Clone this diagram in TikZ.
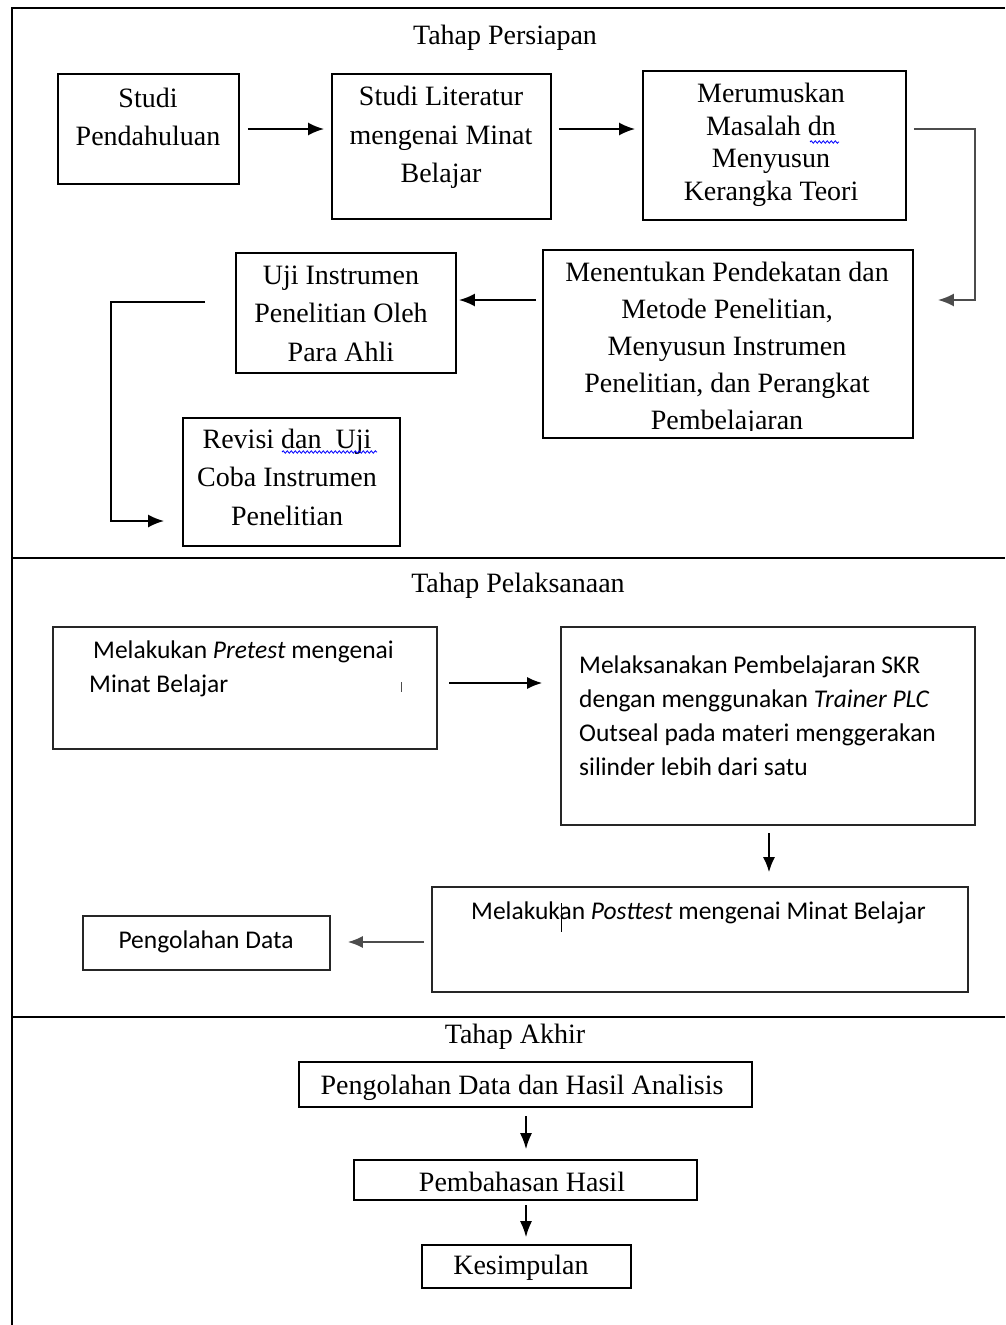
\documentclass[tikz,border=0pt]{standalone}
\usepackage{fontspec}
\setmainfont{Liberation Serif}
\newfontfamily\calfont{Carlito}
\usetikzlibrary{arrows.meta,decorations.pathmorphing}
\begin{document}
\begin{tikzpicture}[x=1pt,y=-1pt,
  box/.style={draw, line width=1.7pt, inner sep=0pt},
  sbox/.style={draw=black!85, line width=1.7pt, inner sep=0pt},
  serif/.style={font=\fontsize{28}{38.5}\selectfont, align=center, inner sep=0pt},
  serifm/.style={font=\fontsize{28}{32.5}\selectfont, align=center, inner sep=0pt},
  serife/.style={font=\fontsize{28}{37}\selectfont, align=center, inner sep=0pt},
  cal/.style={font=\calfont\fontsize{25.5}{34}\selectfont, align=left, inner sep=0pt, anchor=west},
  frame/.style={line width=2.2pt},
  arrA/.style={line width=2.2pt, -{Latex[length=16pt,width=13pt]}},
  arrB/.style={line width=1.6pt, -{Latex[length=15pt,width=12pt]}},
  arrC/.style={line width=1.6pt, -{Latex[length=16pt,width=12pt]}},
  wavy/.style={blue, line width=0.8pt, decorate, decoration={snake, amplitude=1.2pt, segment length=4pt}}
]
\useasboundingbox (0,0) rectangle (1005,1325);
% frame
\coordinate (ftl) at (12,8);
\coordinate (ftr) at (1005,8);
\coordinate (fbl) at (12,1325);
\coordinate (d1l) at (12,558);
\coordinate (d1r) at (1005,558);
\coordinate (d2l) at (12,1017);
\coordinate (d2r) at (1005,1017);
\draw[frame] (ftr) -- (ftl) -- (fbl);
\draw[frame] (d1l) -- (d1r);
\draw[frame] (d2l) -- (d2r);

% titles
\node[serif] (t1) at (505,38) {Tahap Persiapan};
\node[serif] (t2) at (518,586) {Tahap Pelaksanaan};
\node[serif] (t3) at (515,1037) {Tahap Akhir};

% Persiapan boxes
\node[box, minimum width=181pt, minimum height=110pt] (SP) at (148.5,129) {};
\node[box, minimum width=219pt, minimum height=145pt] (SL) at (441.5,146.5) {};
\node[box, minimum width=263pt, minimum height=149pt] (MR) at (774.5,145.5) {};
\node[box, minimum width=370pt, minimum height=188pt] (ME) at (728,344) {};
\node[box, minimum width=220pt, minimum height=120pt] (UJ) at (346,313) {};
\node[box, minimum width=217pt, minimum height=128pt] (RV) at (291.5,482) {};

\node[serif] (SPt) at (148,117) {Studi\\Pendahuluan};
\node[serif] (SLt) at (441,137.5) {Studi Literatur\\mengenai Minat\\Belajar};
\node[serifm] (MRt) at (771,145) {Merumuskan\\Masalah dn\\Menyusun\\Kerangka Teori};
\begin{scope}
  \clip (543,250) rectangle (913,430);
  \node[serife] (MEt) at (727,349) {Menentukan Pendekatan dan\\Metode Penelitian,\\Menyusun Instrumen\\Penelitian, dan Perangkat\\Pembelajaran};
\end{scope}
\node[serif] (UJt) at (341,313.5) {Uji Instrumen\\Penelitian Oleh\\Para Ahli};
\node[serif] (RVt) at (287,477) {Revisi dan\ \ Uji\\Coba Instrumen\\Penelitian};
\draw[wavy] (810,142) -- (839,142);
\draw[wavy] (282,452) -- (377,452);

% Persiapan connectors
\coordinate (c1) at (975,129);
\coordinate (c2) at (975,300);
\coordinate (c3) at (205,302);
\coordinate (c4) at (111,302);
\coordinate (c5) at (111,521);
\draw[arrA, shorten <=8pt, shorten >=7pt] (SP.east) -- (SP.east -| SL.west);
\draw[arrA, shorten <=7pt, shorten >=7pt] (SL.east |- SP.east) -- (MR.west |- SP.east);
\draw[arrA, draw=black!70] ([xshift=7pt]MR.east |- c1) -- (c1) -- (c2) -- ([xshift=24pt]ME.east |- c2);
\draw[arrA, shorten <=6pt, shorten >=2pt] (ME.west |- c2) -- (UJ.east |- c2);
\draw[arrA] (c3) -- (c4) -- (c5) -- ([xshift=-18pt]RV.west |- c5);

% Pelaksanaan boxes
\node[sbox, minimum width=384pt, minimum height=122pt] (PRE) at (245,688) {};
\node[sbox, minimum width=414pt, minimum height=198pt] (MEL) at (768,726) {};
\node[sbox, minimum width=536pt, minimum height=105pt] (POST) at (700,939.5) {};
\node[sbox, minimum width=247pt, minimum height=54pt] (PD) at (206.5,943) {};

\node[cal] (PREa) at (93,652) {Melakukan \textit{Pretest} mengenai};
\node[cal] (PREb) at (89,686) {Minat Belajar};
\node[cal] (MELt) at (579,716) {Melaksanakan Pembelajaran SKR\\dengan menggunakan \textit{Trainer PLC}\\Outseal pada materi menggerakan\\silinder lebih dari satu};
\node[cal] (POSTt) at (471,913) {Melakukan \textit{Posttest} mengenai Minat Belajar};
\node[cal, anchor=center] (PDt) at (206,942) {Pengolahan Data};
\coordinate (m1) at (401,682);
\coordinate (m2) at (401,692);
\draw[line width=1pt, black!70] (m1) -- (m2);
\coordinate (k1) at (561,903);
\coordinate (k2) at (561,932);
\draw[line width=1pt] (k1) -- (k2);

% Pelaksanaan connectors
\coordinate (p1) at (449,683);
\draw[arrB, shorten >=18pt] (p1) -- (MEL.west |- p1);
\coordinate (p2) at (769,833);
\draw[arrB, shorten >=14pt] (p2) -- (POST.north -| p2);
\coordinate (p3) at (424,942);
\draw[arrB, draw=black!70, shorten >=17pt] (p3) -- (PD.east |- p3);

% Akhir
\node[box, minimum width=453pt, minimum height=45pt] (PDH) at (525.5,1084.5) {};
\node[box, minimum width=343pt, minimum height=40pt] (PH) at (525.5,1180) {};
\node[box, minimum width=209pt, minimum height=43pt] (K) at (526.5,1266.5) {};
\node[serif] (PDHt) at (522,1088) {Pengolahan Data dan Hasil Analisis};
\node[serif] (PHt) at (522,1182) {Pembahasan Hasil};
\node[serif] (Kt) at (521,1268) {Kesimpulan};
\coordinate (q1) at (526,1116);
\coordinate (q2) at (526,1205);
\draw[arrC, shorten >=10pt] (q1) -- (PH.north -| q1);
\draw[arrC, shorten >=7pt] (q2) -- (K.north -| q2);
\end{tikzpicture}
\end{document}
